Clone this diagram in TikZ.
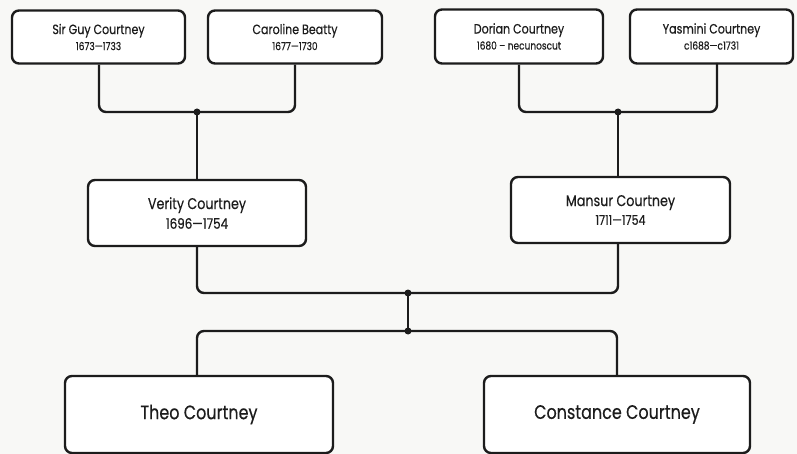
\documentclass[tikz,border=0pt]{standalone}
\usepackage{fontspec}
\setmainfont{Poppins}[FakeStretch=0.82,FakeBold=0.4]
\definecolor{ink}{HTML}{1C1C1C}
\definecolor{paper}{HTML}{F8F8F6}
\begin{document}
\begin{tikzpicture}[x=1pt,y=1pt,
  person/.style={draw=ink, line width=2.4pt, rounded corners=7pt, fill=white, align=center, text=ink, inner sep=0pt},
  conn/.style={draw=ink, line width=2.4pt, rounded corners=7pt},
  joint/.style={circle, fill=ink, inner sep=0pt, minimum size=7pt},
]
\fill[paper] (0,0) rectangle (797,-454);
\useasboundingbox (0,0) rectangle (797,-454);

% top generation
\node[person, minimum width=173pt, minimum height=53pt] (guy) at (98.5,-37)
  {{\fontsize{13.5}{15}\selectfont Sir Guy Courtney}\\[4pt]{\fontsize{11}{12}\selectfont 1673---1733}};
\node[person, minimum width=174pt, minimum height=53pt] (caroline) at (295,-37)
  {{\fontsize{13.5}{15}\selectfont Caroline Beatty}\\[4pt]{\fontsize{11}{12}\selectfont 1677---1730}};
\node[person, minimum width=168pt, minimum height=54pt] (dorian) at (519,-36.5)
  {{\fontsize{13.5}{15}\selectfont Dorian Courtney}\\[4pt]{\fontsize{11}{12}\selectfont 1680 -- necunoscut}};
\node[person, minimum width=163pt, minimum height=54pt] (yasmini) at (711.5,-36.5)
  {{\fontsize{13.5}{15}\selectfont Yasmini Courtney}\\[4pt]{\fontsize{11}{12}\selectfont c1688---c1731}};

% middle generation
\node[person, minimum width=218pt, minimum height=66pt] (verity) at (197,-213)
  {{\fontsize{15.5}{17}\selectfont Verity Courtney}\\[4pt]{\fontsize{14.5}{15}\selectfont 1696---1754}};
\node[person, minimum width=219pt, minimum height=66pt] (mansur) at (620.5,-210)
  {{\fontsize{15.5}{17}\selectfont Mansur Courtney}\\[4pt]{\fontsize{13.5}{14}\selectfont 1711---1754}};

% children
\node[person, minimum width=268pt, minimum height=77pt] (theo) at (199,-414.5)
  {\fontsize{19.5}{22}\selectfont Theo Courtney};
\node[person, minimum width=266pt, minimum height=77pt] (constance) at (617,-414.5)
  {\fontsize{19.5}{22}\selectfont Constance Courtney};

% junction points
\coordinate (d1) at (197,-112);
\coordinate (d2) at (618,-112);
\coordinate (d3) at (408,-293);
\coordinate (d4) at (408,-331);
\coordinate (ys) at (717,-63);

% connectors
\draw[conn] ([xshift=0.5pt]guy.south) |- (d1) -| (caroline.south);
\draw[conn] (d1) -- (verity.north);
\draw[conn] (dorian.south) |- (d2) -| (ys);
\draw[conn] (d2) -- (d2 |- mansur.north);
\draw[conn] (verity.south) |- (d3) -| (d2 |- mansur.south);
\draw[conn] (d3) -- (d4);
\draw[conn] ([xshift=-2pt]theo.north) |- (d4) -| (constance.north);

\node[joint] at (d1) {};
\node[joint] at (d2) {};
\node[joint] at (d3) {};
\node[joint] at (d4) {};
\end{tikzpicture}
\end{document}
